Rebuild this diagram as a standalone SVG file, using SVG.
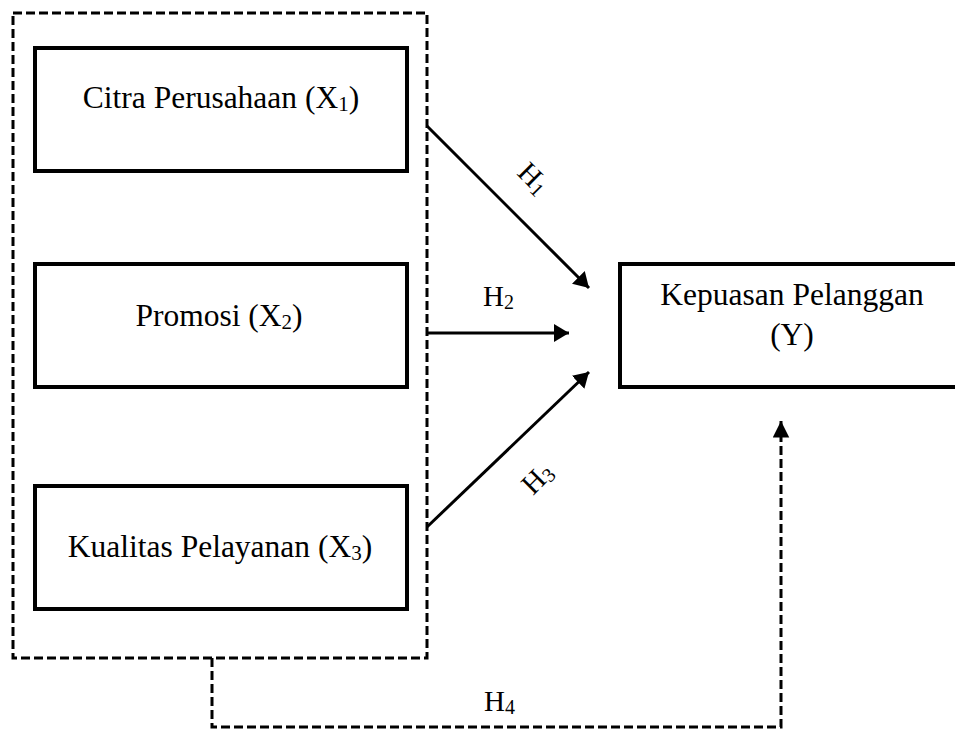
<svg xmlns="http://www.w3.org/2000/svg" width="955" height="729" viewBox="0 0 955 729">
<style>
.box{fill:#fff;stroke:#000;stroke-width:4}
.dash{fill:none;stroke:#000;stroke-width:3;stroke-dasharray:9 4}
.arr{fill:none;stroke:#000;stroke-width:3}
.t{font-family:"Liberation Serif","Times New Roman",serif;font-size:31.5px;fill:#000;text-anchor:middle}
.h{font-family:"Liberation Serif","Times New Roman",serif;font-size:29px;fill:#000}
</style>
<defs>
<marker id="ah" markerWidth="6" markerHeight="6" refX="5" refY="3" orient="auto" markerUnits="strokeWidth">
<path d="M0,0 L5,3 L0,6 Z" fill="#000"/>
</marker>
<marker id="ah2" markerWidth="6" markerHeight="6" refX="5.5" refY="2.75" orient="auto" markerUnits="strokeWidth">
<path d="M0,0 L5.5,2.75 L0,5.5 Z" fill="#000"/>
</marker>
</defs>
<g id="group-x">
<rect class="dash" x="13" y="13" width="414" height="645"/>
</g>
<g id="x1">
<rect class="box" x="35" y="48" width="372" height="123"/>
<text class="t" x="221" y="108">Citra Perusahaan (X<tspan font-size="21" dy="3">1</tspan><tspan dy="-3">)</tspan></text>
</g>
<g id="x2">
<rect class="box" x="35" y="264" width="372" height="123"/>
<text class="t" x="219" y="326">Promosi (X<tspan font-size="21" dy="3">2</tspan><tspan dy="-3">)</tspan></text>
</g>
<g id="x3">
<rect class="box" x="35" y="486" width="372" height="123"/>
<text class="t" x="220" y="557">Kualitas Pelayanan (X<tspan font-size="21" dy="3">3</tspan><tspan dy="-3">)</tspan></text>
</g>
<g id="y">
<rect class="box" x="620" y="264" width="345" height="123"/>
<text class="t" x="792" y="305">Kepuasan Pelanggan</text>
<text class="t" x="792" y="345">(Y)</text>
</g>
<g id="connectors">
<line class="arr" x1="427" y1="126" x2="589" y2="288" marker-end="url(#ah)"/>
<line class="arr" x1="427" y1="333" x2="569" y2="333" marker-end="url(#ah)"/>
<line class="arr" x1="427" y1="527" x2="589" y2="372" marker-end="url(#ah)"/>
<path class="dash" d="M212,658 V727 H781 V421" marker-end="url(#ah2)"/>
<text class="h" transform="translate(527,185) rotate(45)" text-anchor="middle">H<tspan font-size="20" dy="3">1</tspan></text>
<text class="h" x="483" y="306">H<tspan font-size="20" dy="3">2</tspan></text>
<text class="h" transform="translate(544,485) rotate(-45)" text-anchor="middle">H<tspan font-size="20" dy="3">3</tspan></text>
<text class="h" x="484" y="711">H<tspan font-size="20" dy="3">4</tspan></text>
</g>
</svg>
